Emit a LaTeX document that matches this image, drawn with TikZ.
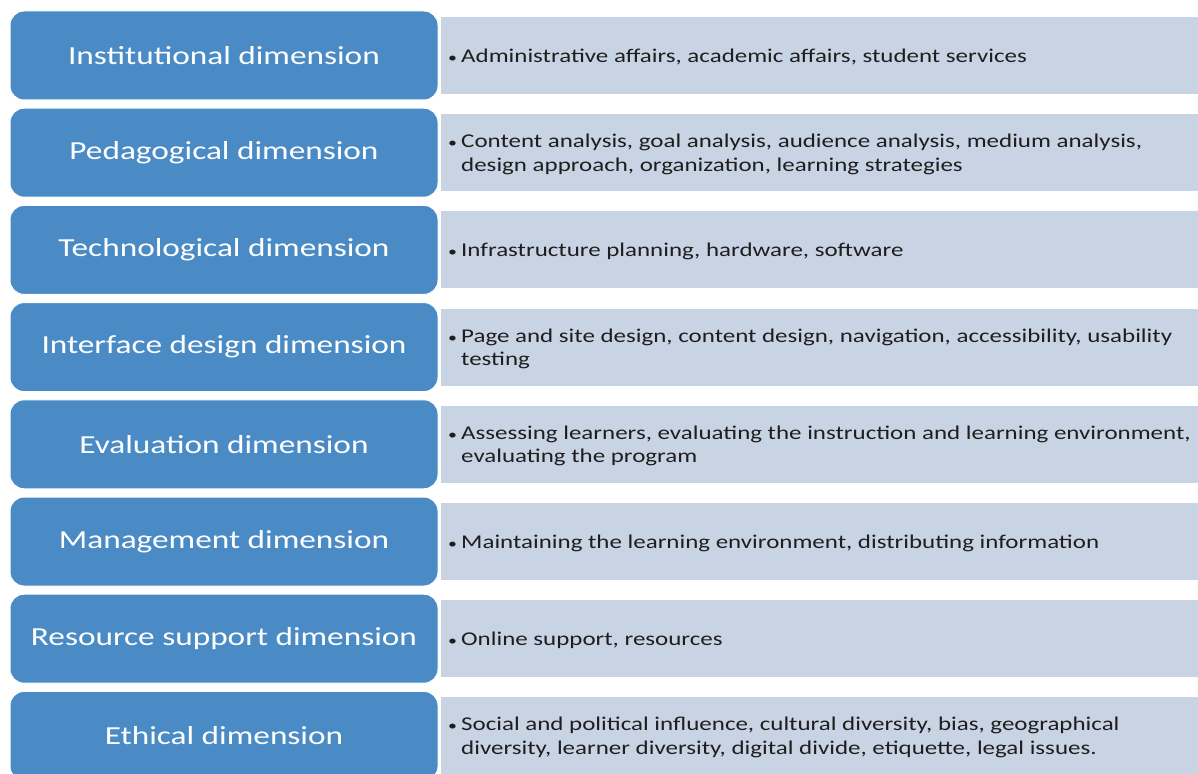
\documentclass[tikz,border=0pt]{standalone}
\usepackage{fontspec}
\setmainfont{Carlito}[FakeStretch=1.28]
\definecolor{dimblue}{RGB}{74,139,198}
\definecolor{descgrey}{RGB}{200,212,228}
\definecolor{desctextc}{RGB}{30,30,30}
\tikzset{
  dimbox/.style={draw=white, line width=1pt, fill=dimblue, rounded corners=14pt,
    minimum width=428pt, minimum height=89pt, inner sep=0pt,
    text=white, font=\fontsize{26}{31}\selectfont},
  descbox/.style={fill=descgrey, minimum width=770pt, minimum height=77pt, inner sep=0pt},
  desctext/.style={anchor=west, inner sep=0pt, text=desctextc, align=left,
    font=\fontsize{19.5}{23.5}\selectfont}
}
\newcommand{\blt}{\makebox[13pt][l]{\fontsize{14}{14}\selectfont\textbullet}}
\newcommand{\desc}[2]{\begin{tabular}{@{}l@{}l@{}}\blt & #1\\ & #2\end{tabular}}
\newcommand{\descone}[1]{\begin{tabular}{@{}l@{}l@{}}\blt & #1\end{tabular}}
\begin{document}
\begin{tikzpicture}[x=1pt,y=-1pt]
\useasboundingbox (0,0) rectangle (1198,773);
\clip (0,0) rectangle (1198,773);
\fill[white] (0,0) rectangle (1198,773);
% description bands
\foreach \i in {0,...,7}{
  \node[descbox, anchor=west] (desc\i) at (441, 55.5+97.2*\i) {};
}
% blue boxes
\node[dimbox] (dim0) at (224, 55.5+97.2*0) {Institutional dimension};
\node[dimbox] (dim1) at (224, 55.5+97.2*1) {Pedagogical dimension};
\node[dimbox] (dim2) at (224, 55.5+97.2*2) {Technological dimension};
\node[dimbox] (dim3) at (224, 55.5+97.2*3) {Interface design dimension};
\node[dimbox] (dim4) at (224, 55.5+97.2*4) {Evaluation dimension};
\node[dimbox] (dim5) at (224, 55.5+97.2*5) {Management dimension};
\node[dimbox] (dim6) at (224, 55.5+97.2*6) {Resource support dimension};
\node[dimbox] (dim7) at (224, 55.5+97.2*7) {Ethical dimension};
% texts
\node[desctext] (txt0) at (448, 57.5+97.2*0) {\descone{Administrative affairs, academic affairs, student services}};
\node[desctext] (txt1) at (448, 57.5+97.2*1) {\desc{Content analysis, goal analysis, audience analysis, medium analysis,}{design approach, organization, learning strategies}};
\node[desctext] (txt2) at (448, 57.5+97.2*2) {\descone{Infrastructure planning, hardware, software}};
\node[desctext] (txt3) at (448, 57.5+97.2*3) {\desc{Page and site design, content design, navigation, accessibility, usability}{testing}};
\node[desctext] (txt4) at (448, 57.5+97.2*4) {\desc{Assessing learners, evaluating the instruction and learning environment,}{evaluating the program}};
\node[desctext] (txt5) at (448, 57.5+97.2*5) {\descone{Maintaining the learning environment, distributing information}};
\node[desctext] (txt6) at (448, 57.5+97.2*6) {\descone{Online support, resources}};
\node[desctext] (txt7) at (448, 57.5+97.2*7) {\desc{Social and political influence, cultural diversity, bias, geographical}{diversity, learner diversity, digital divide, etiquette, legal issues.}};
\end{tikzpicture}
\end{document}
